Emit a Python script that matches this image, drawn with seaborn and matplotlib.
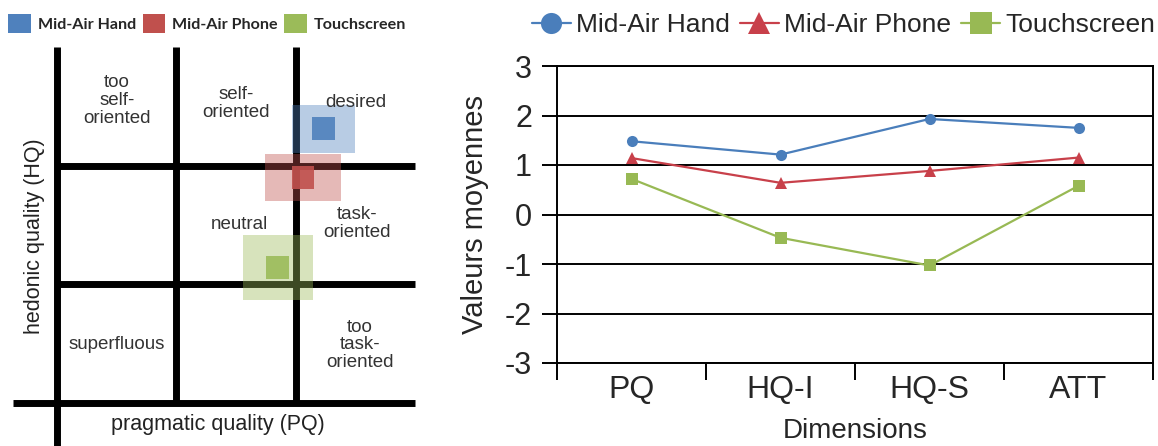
import matplotlib
matplotlib.use("Agg")
import matplotlib.pyplot as plt
import pandas as pd
import seaborn as sns
from matplotlib.patches import Rectangle, Patch

# --- data ------------------------------------------------------------------
devices = ["Mid-Air Hand", "Mid-Air Phone", "Touchscreen"]
dimensions = ["PQ", "HQ-I", "HQ-S", "ATT"]
hand_means = [1.48, 1.21, 1.93, 1.75]
phone_means = [1.14, 0.64, 0.88, 1.15]
touch_means = [0.72, -0.47, -1.03, 0.58]

# AttrakDiff portfolio: centre (PQ, HQ) and confidence half-widths
portfolio_pq = [1.47, 1.12, 0.70]
portfolio_hq = [1.62, 0.80, -0.72]
ci_pq = [0.53, 0.64, 0.59]
ci_hq = [0.41, 0.39, 0.55]

portfolio_colors = ["#4F81BD", "#C0504D", "#9BBB59"]
line_colors = ["#4A7EBB", "#C8404A", "#98B954"]

sns.set_theme(style="white")
plt.rcParams["font.family"] = ["Liberation Sans", "DejaVu Sans"]
plt.rcParams["axes.unicode_minus"] = False

fig = plt.figure(figsize=(11.58, 4.46), dpi=100)

# --- left: portfolio diagram ------------------------------------------------
ax1 = fig.add_axes([0, 0, 430 / 1158, 1])
ax1.set_xlim(-3.955, 3.248)
ax1.set_ylim(-3.725, 3.792)

grid_kw = dict(color="black", lw=5, solid_capstyle="butt", zorder=1)
ax1.plot([-3, -3], [3, -3.8], **grid_kw)
for x in (-1, 1):
    ax1.plot([x, x], [3, -3], **grid_kw)
for y in (1, -1):
    ax1.plot([-3, 3], [y, y], **grid_kw)
ax1.plot([-3.74, 3], [-3, -3], **grid_kw)

for pq, hq, dx, dy, c in zip(portfolio_pq, portfolio_hq, ci_pq, ci_hq, portfolio_colors):
    ax1.add_patch(Rectangle((pq - dx, hq - dy), 2 * dx, 2 * dy,
                            facecolor=c, alpha=0.4, lw=0, zorder=2))

pf = pd.DataFrame({"device": devices, "PQ": portfolio_pq, "HQ": portfolio_hq})
sns.scatterplot(data=pf, x="PQ", y="HQ", hue="device", palette=portfolio_colors,
                marker="s", s=270, linewidth=0, alpha=0.9, legend=False,
                ax=ax1, zorder=3)
ax1.axis("off")

lab_kw = dict(ha="center", va="center", fontsize=13.5, color="#333333",
              linespacing=1.05)
ax1.text(-2.0, 2.1, "too\nself-\noriented", **lab_kw)
ax1.text(0.0, 2.05, "self-\noriented", **lab_kw)
ax1.text(2.0, 2.07, "desired", **lab_kw)
ax1.text(0.05, 0.0, "neutral", **lab_kw)
ax1.text(2.03, 0.03, "task-\noriented", **lab_kw)
ax1.text(-2.0, -2.02, "superfluous", **lab_kw)
ax1.text(2.07, -2.02, "too\ntask-\noriented", **lab_kw)
ax1.text(-3.37, -0.19, "hedonic quality (HQ)", rotation=90, ha="center",
         va="center", fontsize=15.5, color="#222222")
ax1.text(-0.30, -3.37, "pragmatic quality (PQ)", ha="center", va="center",
         fontsize=15.5, color="#222222")

handles = [Patch(facecolor=c, edgecolor="none") for c in portfolio_colors]
fig.legend(handles, devices, loc="upper left",
           bbox_to_anchor=(8 / 1158, 1 - 14 / 446), ncol=3, frameon=False,
           prop=dict(family="Lato", weight="bold", size=11.6),
           handlelength=1.4, handleheight=1.4, handletextpad=0.45,
           columnspacing=0.4, borderpad=0, borderaxespad=0)

# --- right: mean values per dimension ---------------------------------------
ax2 = fig.add_axes([557 / 1158, (446 - 363) / 446, 596 / 1158, 297 / 446])
df = pd.DataFrame({
    "Dimensions": dimensions * 3,
    "value": hand_means + phone_means + touch_means,
    "device": [d for d in devices for _ in dimensions],
})
sns.lineplot(data=df, x="Dimensions", y="value", hue="device", style="device",
             palette=line_colors, markers={"Mid-Air Hand": "o",
                                           "Mid-Air Phone": "^",
                                           "Touchscreen": "s"},
             dashes=False, sort=False, linewidth=1.6, markersize=8,
             markeredgewidth=0, ax=ax2, zorder=3)

ax2.set_ylim(-3, 3)
ax2.set_xlim(-0.5, 3.5)
ax2.set_yticks(range(-3, 4))
ax2.grid(axis="y", color="black", lw=1.4)
ax2.set_axisbelow(True)
for s in ax2.spines.values():
    s.set_color("black")
    s.set_linewidth(1.4)
ax2.set_xticks([-0.5, 0.5, 1.5, 2.5, 3.5], minor=True)
ax2.tick_params(axis="x", which="major", length=0, pad=9, labelsize=23)
ax2.tick_params(axis="x", which="minor", length=12, width=1.4, color="black",
                direction="out", bottom=True)
ax2.tick_params(axis="y", length=11, width=1.4, color="black", direction="out",
                left=True, pad=7, labelsize=22)
ax2.set_ylabel("Valeurs moyennes", fontsize=21, labelpad=11)
ax2.set_xlabel("Dimensions", fontsize=20, va="baseline")
ax2.xaxis.set_label_coords(0.5, (363 - 438) / 297)

ax2.legend(loc="center right", bbox_to_anchor=(1.003, 1.138), ncol=3,
           frameon=False, fontsize=19, handlelength=1.45, handletextpad=0.2,
           columnspacing=0.4, markerscale=1.9, borderpad=0, borderaxespad=0,
           title=None)

fig.savefig("out.png", dpi=100)
